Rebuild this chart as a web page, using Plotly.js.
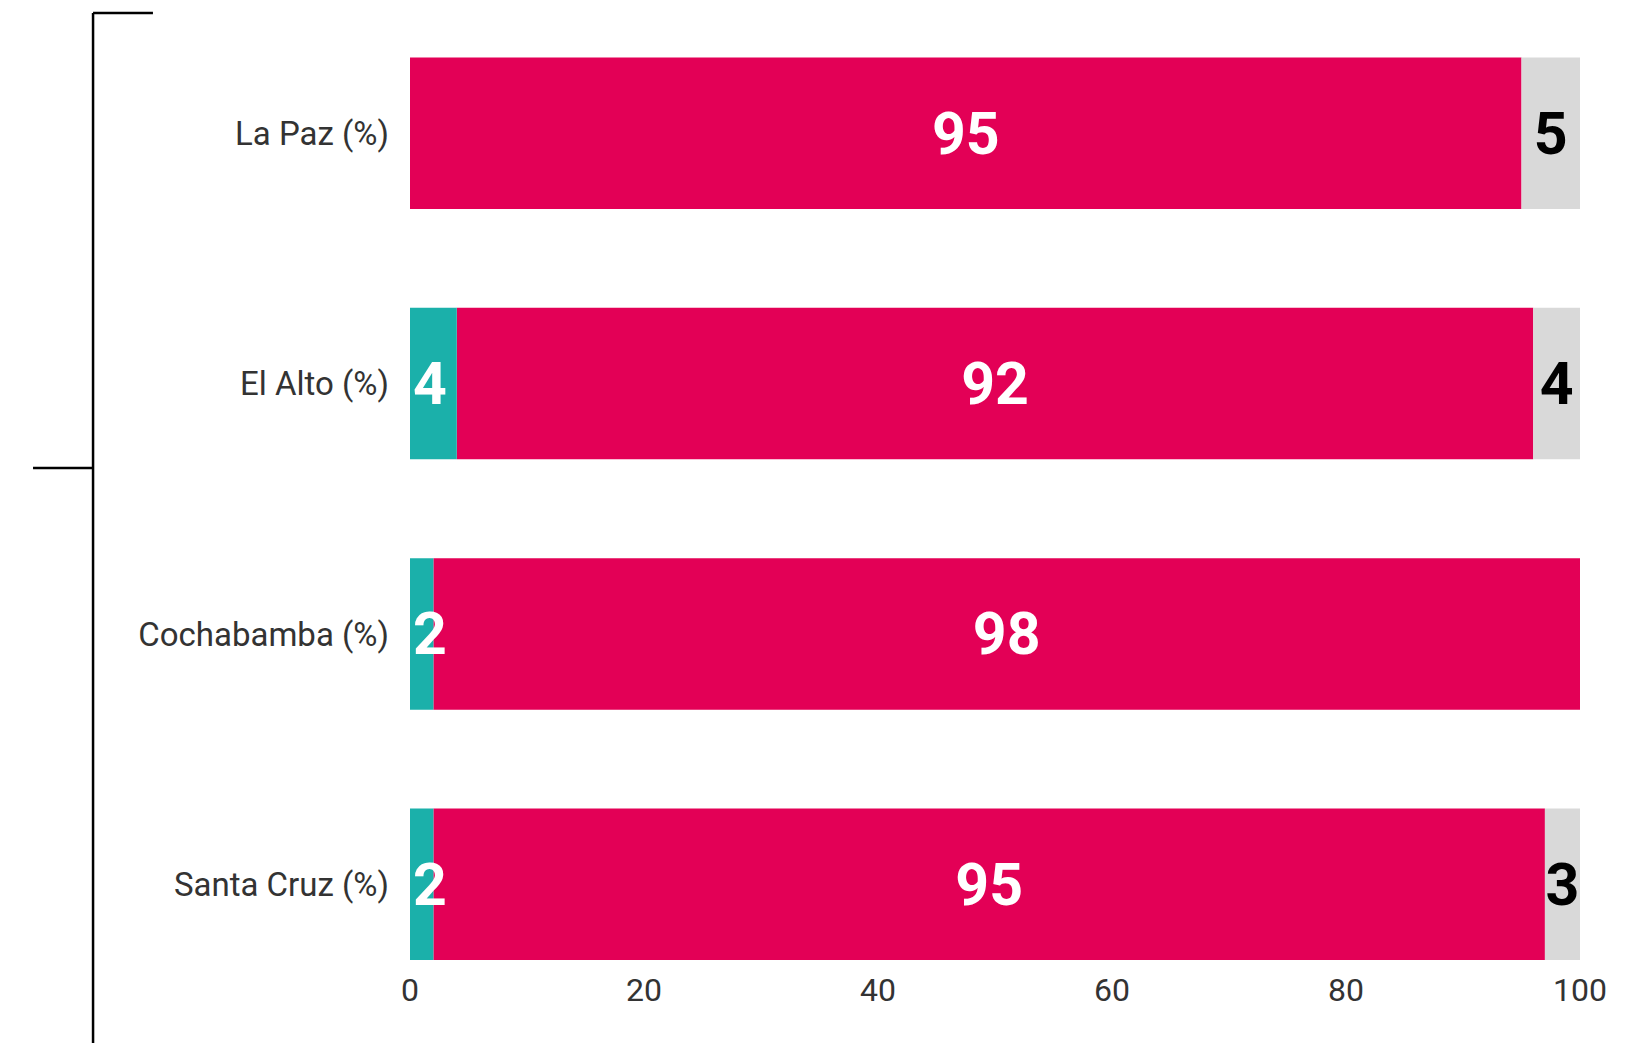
<!DOCTYPE html>
<html>
<head>
<meta charset="utf-8">
<script src="https://cdn.plot.ly/plotly-3.0.1.min.js"></script>
<style>html,body{margin:0;padding:0;background:#fff;}#chart{width:1646px;height:1043px;}</style>
</head>
<body>
<div id="chart"></div>
<script>
const categories = ['La Paz (%)', 'El Alto (%)', 'Cochabamba (%)', 'Santa Cruz (%)'];
const tealValues = [0, 4, 2, 2];
const redValues = [95, 92, 98, 95];
const grayValues = [5, 4, 0, 3];
const xTicks = [0, 20, 40, 60, 80, 100];

const labelOf = v => v > 0 ? String(v) : '';
const labelFont = (c) => ({family: 'Roboto, sans-serif', size: 59, color: c, weight: 700});

// stacked bases computed from the series so that the teal segment (and its label) can be drawn on top
const redBase = tealValues.slice();
const grayBase = tealValues.map((t, i) => t + redValues[i]);

const common = {
  type: 'bar', orientation: 'h', y: categories,
  textposition: 'inside', constraintext: 'none', cliponaxis: false,
  hoverinfo: 'skip'
};

const traces = [
  Object.assign({}, common, {
    x: redValues, base: redBase, text: redValues.map(labelOf), name: 'red',
    marker: {color: '#E30056', line: {width: 0}},
    insidetextanchor: 'middle', insidetextfont: labelFont('#ffffff')
  }),
  Object.assign({}, common, {
    x: grayValues, base: grayBase, text: grayValues.map(labelOf), name: 'gray',
    marker: {color: '#D9D9D9', line: {width: 0}},
    insidetextanchor: 'middle', insidetextfont: labelFont('#000000')
  }),
  Object.assign({}, common, {
    x: tealValues, base: 0, text: tealValues.map(labelOf), name: 'teal',
    marker: {color: '#1BB0AA', line: {width: 0}},
    insidetextanchor: 'start', insidetextfont: labelFont('#ffffff')
  })
];

const layout = {
  width: 1646, height: 1043,
  margin: {l: 410, r: 66, t: 8, b: 68},
  barmode: 'overlay', bargap: 0.395,
  showlegend: false,
  paper_bgcolor: '#ffffff', plot_bgcolor: '#ffffff',
  xaxis: {
    range: [0, 100], tickvals: xTicks, ticktext: xTicks.map(String),
    showgrid: false, zeroline: false, showline: false, ticks: '',
    ticklabelstandoff: -7,
    tickfont: {family: 'Roboto, sans-serif', size: 32, color: '#333333'},
    fixedrange: true
  },
  yaxis: {
    type: 'category', range: [3.362, -0.5], autorange: false,
    showgrid: false, zeroline: false, showline: false, ticks: '',
    ticklabelstandoff: 20,
    tickfont: {family: 'Roboto, sans-serif', size: 33, color: '#333333'},
    fixedrange: true
  },
  shapes: [
    {type: 'line', xref: 'paper', yref: 'paper', x0: -0.2709, x1: -0.2709, y0: 0.9948, y1: -0.08, line: {color: '#000', width: 2.5}},
    {type: 'line', xref: 'paper', yref: 'paper', x0: -0.2709, x1: -0.2197, y0: 0.9948, y1: 0.9948, line: {color: '#000', width: 2.5}},
    {type: 'line', xref: 'paper', yref: 'paper', x0: -0.3222, x1: -0.2709, y0: 0.5243, y1: 0.5243, line: {color: '#000', width: 2.5}}
  ]
};

Plotly.newPlot('chart', traces, layout, {displayModeBar: false, staticPlot: true});
</script>
</body>
</html>
